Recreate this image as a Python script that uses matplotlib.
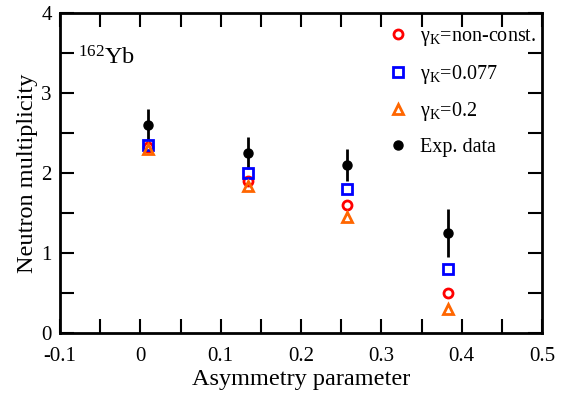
import matplotlib.pyplot as plt
from matplotlib.ticker import MultipleLocator

plt.rcParams['font.family'] = ['Liberation Serif', 'DejaVu Serif']
plt.rcParams['mathtext.fontset'] = 'custom'
plt.rcParams['mathtext.rm'] = 'Liberation Serif'
plt.rcParams['mathtext.it'] = 'Liberation Serif:italic'

# asymmetry parameter of each point
asym = [0.010, 0.134, 0.2575, 0.3825]

# model values
gk_nonconst = [2.32, 1.90, 1.60, 0.50]
gk_0077 = [2.35, 2.00, 1.80, 0.80]
gk_02 = [2.30, 1.84, 1.45, 0.30]

# experimental data
exp_val = [2.60, 2.25, 2.10, 1.25]
exp_err = [0.20, 0.20, 0.20, 0.30]

labels = ['γ$_{\\rm K}$=non-const.', 'γ$_{\\rm K}$=0.077', 'γ$_{\\rm K}$=0.2',
          'Exp. data']

fig = plt.figure(figsize=(5.65, 3.94), dpi=100)
ax = fig.add_axes([60 / 565, 1 - 333 / 394, 482 / 565, 320 / 394])

ax.errorbar(asym, exp_val, yerr=exp_err, fmt='none', ecolor='black',
            elinewidth=2, capsize=0, zorder=1)
ax.plot(asym, gk_nonconst, 'o', mfc='none', mec='#ff0000', mew=2, ms=6.5,
        label=labels[0], zorder=3)
ax.plot(asym, gk_0077, 's', mfc='none', mec='#0000ff', mew=2, ms=6.5,
        label=labels[1], zorder=3)
ax.plot(asym, gk_02, '^', mfc='none', mec='#ff6600', mew=2, ms=7.5,
        label=labels[2], zorder=3)
ax.plot(asym, exp_val, 'o', color='black', ms=6.5,
        label=labels[3], zorder=4)

ax.set_xlim(-0.1, 0.5)
ax.set_ylim(0, 4)
ax.xaxis.set_major_locator(MultipleLocator(0.1))
ax.xaxis.set_minor_locator(MultipleLocator(0.05))
ax.yaxis.set_major_locator(MultipleLocator(1))
ax.yaxis.set_minor_locator(MultipleLocator(0.5))
ax.xaxis.set_major_formatter(lambda v, p: '0' if abs(v) < 1e-9 else f'{v:.1f}')
ax.yaxis.set_major_formatter(lambda v, p: f'{v:.0f}')

ax.tick_params(which='both', direction='in', top=True, right=True,
               length=10, width=1.5, labelsize=15)
ax.tick_params(axis='x', pad=10)
ax.tick_params(axis='y', pad=6)
for s in ax.spines.values():
    s.set_linewidth(2)

ax.set_xlabel('Asymmetry parameter', fontsize=17.5, labelpad=2)
ax.set_ylabel('Neutron multiplicity', fontsize=17.5, labelpad=2)

ax.text(0.037, 0.84, '$^{162}$Yb', transform=ax.transAxes, fontsize=17.5)

ax.legend(loc='upper right', bbox_to_anchor=(1.0, 0.975), frameon=False,
          fontsize=14.5, handletextpad=0.45, labelspacing=0.72,
          borderaxespad=0.0, handlelength=1.3, borderpad=0.3)

fig.savefig('out.png', dpi=100)
